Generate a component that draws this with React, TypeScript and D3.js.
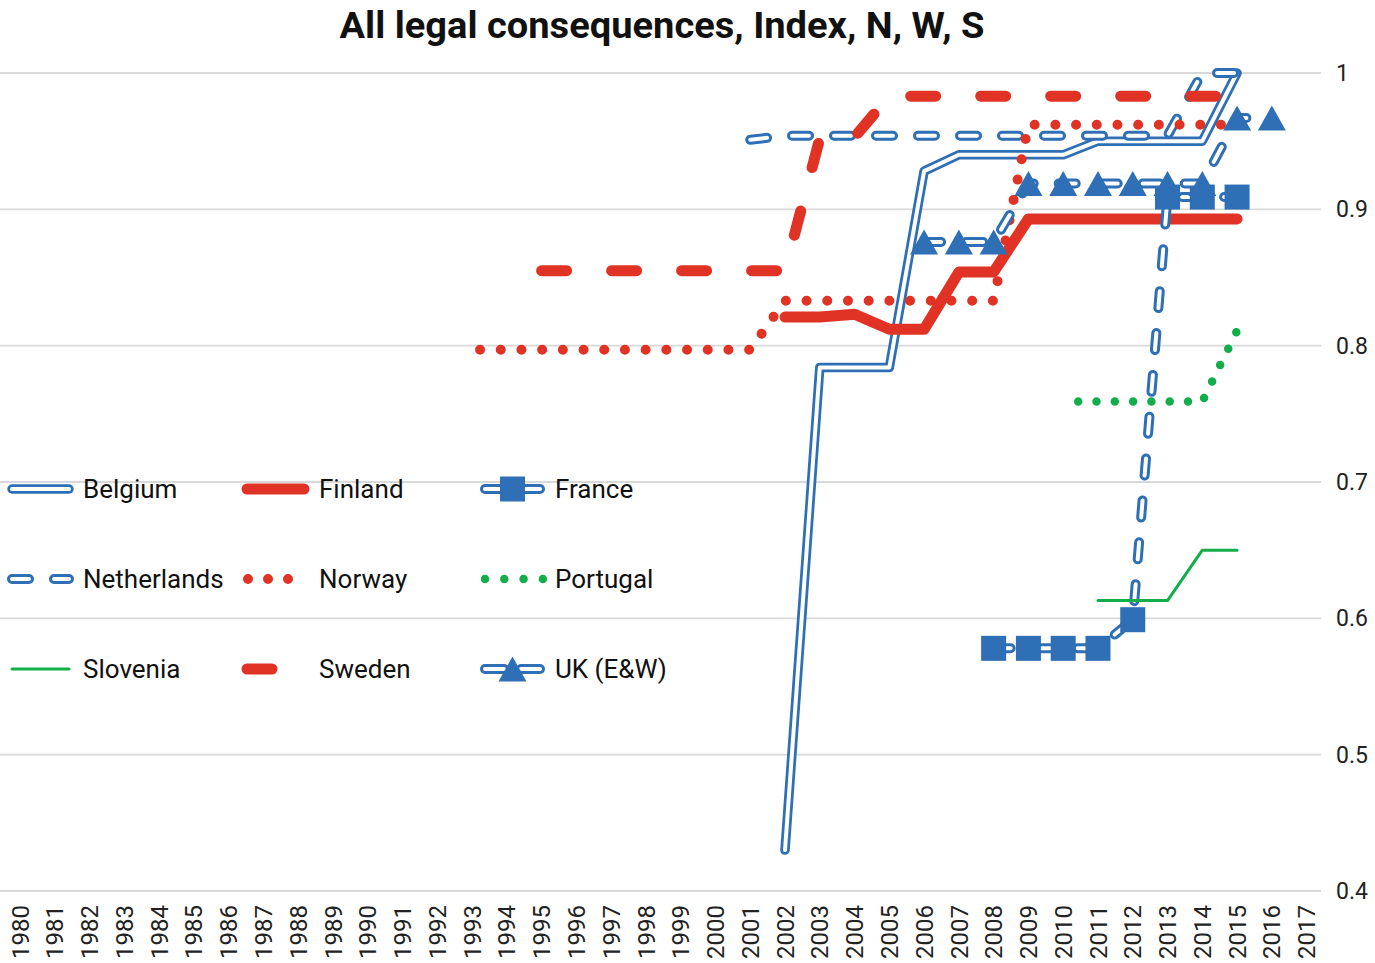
import { useEffect, useRef } from 'react';
import * as d3 from 'd3';

const years = [
  '1980', '1981', '1982', '1983', '1984', '1985', '1986', '1987', '1988', '1989',
  '1990', '1991', '1992', '1993', '1994', '1995', '1996', '1997', '1998', '1999',
  '2000', '2001', '2002', '2003', '2004', '2005', '2006', '2007', '2008', '2009',
  '2010', '2011', '2012', '2013', '2014', '2015', '2016', '2017',
];
const yTicks = [0.4, 0.5, 0.6, 0.7, 0.8, 0.9, 1];
const yTickLabels = ['0.4', '0.5', '0.6', '0.7', '0.8', '0.9', '1'];

// values per year, starting at the year noted beside each array
const belgium = [0.43, 0.784, 0.784, 0.784, 0.928, 0.94, 0.94, 0.94, 0.94, 0.95, 0.95, 0.95, 0.95, 1.0]; // 2002
const finland = [0.821, 0.821, 0.823, 0.812, 0.812, 0.854, 0.854, 0.893, 0.893, 0.893, 0.893, 0.893, 0.893, 0.893]; // 2002
const france = [0.578, 0.578, 0.578, 0.578, 0.599, 0.909, 0.909, 0.909]; // 2008
const netherlands = [0.951, 0.954, 0.954, 0.954, 0.954, 0.954, 0.954, 0.954, 0.954, 0.954, 0.954, 0.954, 0.954, 1.0, 1.0]; // 2001
const norway = [
  0.797, 0.797, 0.797, 0.797, 0.797, 0.797, 0.797, 0.797, 0.797,
  0.833, 0.833, 0.833, 0.833, 0.833, 0.833, 0.833,
  0.962, 0.962, 0.962, 0.962, 0.962, 0.962, 0.962,
]; // 1993
const portugal = [0.759, 0.759, 0.759, 0.759, 0.759, 0.811]; // 2010
const slovenia = [0.613, 0.613, 0.613, 0.65, 0.65]; // 2011
const sweden = [0.855, 0.855, 0.855, 0.855, 0.855, 0.855, 0.855, 0.855, 0.952, 0.953, 0.983, 0.983, 0.983, 0.983, 0.983, 0.983, 0.983, 0.983, 0.983, 0.983, 0.983]; // 1995
const ukEW = [0.876, 0.876, 0.876, 0.919, 0.919, 0.919, 0.919, 0.919, 0.919, 0.967, 0.967]; // 2006

const BLUE = '#2E6FB5';
const RED = '#E03325';
const GREEN = '#13AE4B';
const FONT = 'Roboto, "Noto Sans", sans-serif';

type Style = {
  kind: 'double' | 'solid' | 'dots';
  color: string;
  width: number;
  dash?: string;
  offset?: number;
  marker?: 'square' | 'triangle';
};

type Series = { name: string; start: number; values: number[]; style: Style };

const DBL_DASH = '17 25';

const series: Series[] = [
  { name: 'Belgium', start: 2002, values: belgium, style: { kind: 'double', color: BLUE, width: 9.5 } },
  { name: 'Finland', start: 2002, values: finland, style: { kind: 'solid', color: RED, width: 11 } },
  { name: 'France', start: 2008, values: france, style: { kind: 'double', color: BLUE, width: 10, dash: DBL_DASH, marker: 'square' } },
  { name: 'Netherlands', start: 2001, values: netherlands, style: { kind: 'double', color: BLUE, width: 10, dash: DBL_DASH } },
  { name: 'Norway', start: 1993, values: norway, style: { kind: 'dots', color: RED, width: 10, dash: '0 20.7', offset: -8 } },
  { name: 'Portugal', start: 2010, values: portugal, style: { kind: 'dots', color: GREEN, width: 8.5, dash: '0 18.3', offset: -15 } },
  { name: 'Slovenia', start: 2011, values: slovenia, style: { kind: 'solid', color: GREEN, width: 3 } },
  { name: 'Sweden', start: 1995, values: sweden, style: { kind: 'solid', color: RED, width: 11, dash: '25 45' } },
  { name: 'UK (E&W)', start: 2006, values: ukEW, style: { kind: 'double', color: BLUE, width: 10, dash: DBL_DASH, marker: 'triangle' } },
];

function strokePath(g: d3.Selection<SVGGElement, unknown, null, undefined>, d: string, s: Style) {
  const base = g.append('path')
    .attr('d', d)
    .attr('fill', 'none')
    .attr('stroke', s.color)
    .attr('stroke-width', s.width)
    .attr('stroke-linejoin', 'round')
    .attr('stroke-linecap', 'round');
  if (s.dash) base.attr('stroke-dasharray', s.dash);
  if (s.offset) base.attr('stroke-dashoffset', s.offset);
  if (s.kind === 'double') {
    const inner = g.append('path')
      .attr('d', d)
      .attr('fill', 'none')
      .attr('stroke', '#fff')
      .attr('stroke-width', 4)
      .attr('stroke-linejoin', 'round')
      .attr('stroke-linecap', 'round');
    if (s.dash) inner.attr('stroke-dasharray', s.dash);
  }
}

function drawMarker(g: d3.Selection<SVGGElement, unknown, null, undefined>, kind: string, cx: number, cy: number, color: string) {
  if (kind === 'square') {
    g.append('rect').attr('x', cx - 12.5).attr('y', cy - 12.5).attr('width', 25).attr('height', 25).attr('fill', color);
  } else {
    g.append('path').attr('d', `M${cx},${cy - 12.5}L${cx + 14},${cy + 12.5}L${cx - 14},${cy + 12.5}Z`).attr('fill', color);
  }
}

export default function App() {
  const ref = useRef<SVGSVGElement>(null);

  useEffect(() => {
    const svg = d3.select(ref.current);
    svg.selectAll('*').remove();

    const x = d3.scaleBand<string>().domain(years).range([2.6, 1324]);
    const xc = (yr: number) => (x(String(yr)) ?? 0) + x.bandwidth() / 2;
    const y = d3.scaleLinear().domain([0.4, 1]).range([891, 73]);

    // gridlines
    svg.append('g').selectAll('line').data(yTicks).join('line')
      .attr('x1', 0).attr('x2', 1321)
      .attr('y1', (d) => y(d)).attr('y2', (d) => y(d))
      .attr('stroke', '#d9d9d9').attr('stroke-width', 1.8);

    // value axis labels (right)
    svg.append('g').selectAll('text').data(yTicks).join('text')
      .attr('x', 1336).attr('y', (d) => y(d)).attr('dy', '0.35em')
      .attr('font-family', FONT).attr('font-size', 23).attr('fill', '#222')
      .text((d, i) => yTickLabels[i]);

    // category labels (rotated)
    svg.append('g').selectAll('text').data(years).join('text')
      .attr('transform', (d) => `translate(${(x(d) ?? 0) + x.bandwidth() / 2},905) rotate(-90)`)
      .attr('text-anchor', 'end').attr('dy', '0.36em')
      .attr('font-family', FONT).attr('font-size', 24).attr('fill', '#222')
      .text((d) => d);

    // series
    const plot = svg.append('g');
    series.forEach((s) => {
      const line = d3.line<number>()
        .x((_, i) => xc(s.start + i))
        .y((d) => y(d));
      const g = plot.append('g');
      strokePath(g, line(s.values) || '', s.style);
      if (s.style.marker) {
        s.values.forEach((v, i) => drawMarker(g, s.style.marker!, xc(s.start + i), y(v), s.style.color));
      }
    });

    // legend
    const legend = svg.append('g');
    const colX = [8, 243, 480];
    const textX = [83, 319, 555];
    const rowY = [489, 579, 669];
    series.forEach((s, i) => {
      const col = i % 3;
      const row = Math.floor(i / 3);
      const ly = rowY[row];
      const g = legend.append('g');
      const st = s.style;
      let x0 = colX[col] + 4;
      let x1 = colX[col] + 61;
      if (st.kind === 'dots') {
        x0 = colX[col] + 5;
        x1 = colX[col] + 5 + (s.name === 'Portugal' ? 60 : 42);
      }
      if (s.name === 'Sweden') x1 = colX[col] + 40;
      const lineStyle: Style = st.kind === 'dots'
        ? { ...st, dash: s.name === 'Portugal' ? '0 19.3' : '0 20', offset: 0 }
        : st.kind === 'double' && st.marker ? { ...st, dash: undefined } : st;
      if (st.kind === 'double' && st.marker) {
        // dashes either side of the marker
        strokePath(g, `M${colX[col] + 5},${ly}L${colX[col] + 24},${ly}`, lineStyle);
        strokePath(g, `M${colX[col] + 41},${ly}L${colX[col] + 60},${ly}`, lineStyle);
        drawMarker(g, st.marker, colX[col] + 32.5, ly, st.color);
      } else {
        strokePath(g, `M${x0},${ly}L${x1},${ly}`, lineStyle);
      }
      g.append('text')
        .attr('x', textX[col]).attr('y', ly).attr('dy', '0.35em')
        .attr('font-family', FONT).attr('font-size', 26).attr('fill', '#111')
        .text(s.name);
    });

    // title
    svg.append('text')
      .attr('x', 662).attr('y', 38)
      .attr('text-anchor', 'middle')
      .attr('font-family', FONT).attr('font-weight', 700).attr('font-size', 37)
      .attr('textLength', 645).attr('lengthAdjust', 'spacingAndGlyphs')
      .attr('fill', '#111')
      .text('All legal consequences, Index, N, W, S');
  }, []);

  return (
    <svg
      ref={ref}
      width={1375}
      height={963}
      style={{ position: 'absolute', left: 0, top: 0, background: '#fff' }}
    />
  );
}
